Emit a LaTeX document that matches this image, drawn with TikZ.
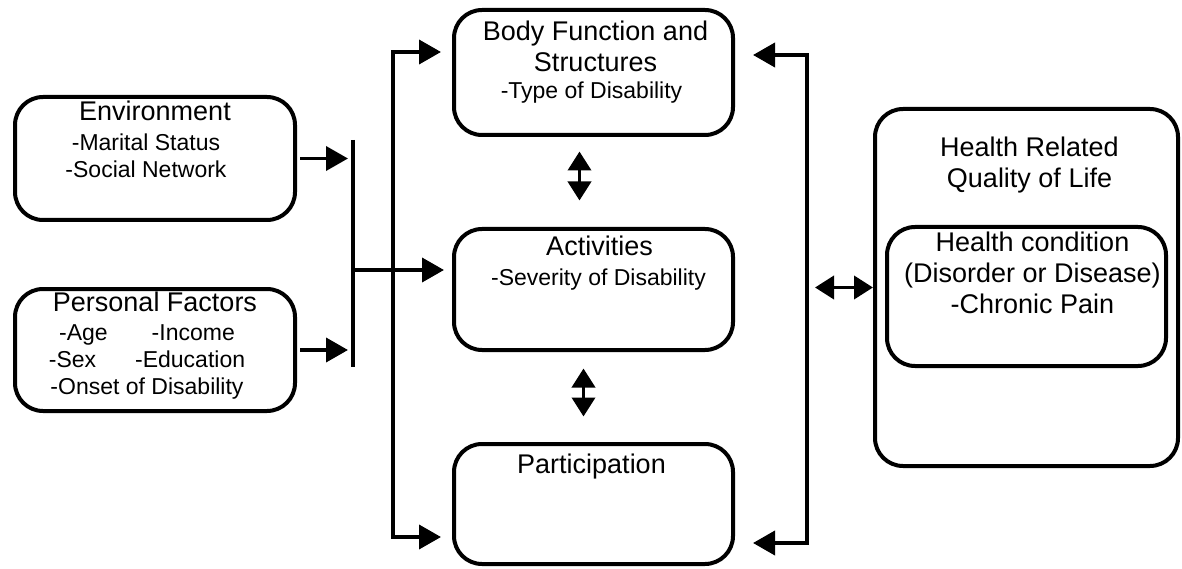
\documentclass[tikz,border=0pt]{standalone}
\usepackage{fontspec}
\setmainfont{Liberation Sans}
\usetikzlibrary{arrows.meta, positioning}
\newcommand{\boxtitle}{\fontsize{27}{31}\selectfont}
\newcommand{\boxitem}{\fontsize{23}{27}\selectfont}

\begin{document}
\begin{tikzpicture}[x=1pt, y=-1pt,
    box/.style={draw, line width=4pt, rounded corners=28pt},
    txt/.style={anchor=north, inner sep=0pt, align=center},
    conn/.style={line width=3.8pt},
    arr/.style={conn, -{Triangle[length=22pt, width=24pt]}},
    arrboth/.style={conn, {Triangle[length=22pt, width=24pt]}-{Triangle[length=22pt, width=24pt]}},
    twoway/.style={conn, {Triangle[length=19pt, width=23pt]}-{Triangle[length=19pt, width=23pt]}}]
  \useasboundingbox (0,0) rectangle (1182,569);

  % left boxes
  \node[box, minimum width=280pt, minimum height=123pt] (env) at (155,158.5) {};
  \node[box, minimum width=280pt, minimum height=122pt] (pers) at (155,350) {};
  % middle column
  \node[box, minimum width=279pt, minimum height=125pt] (body) at (593.5,72.5) {};
  \node[box, minimum width=279pt, minimum height=121pt] (act) at (593.5,289.5) {};
  \node[box, minimum width=279pt, minimum height=120pt] (part) at (593.5,504) {};
  % right side
  \node[box, minimum width=303pt, minimum height=357pt] (hrql) at (1026.5,287.5) {};
  \node[box, minimum width=279pt, minimum height=139pt] (cond) at (1026.5,296.5) {};

  % texts
  \node[txt, font=\boxtitle, yshift=-5.5pt] (envt) at (env.north) {Environment};
  \node[txt, font=\boxitem, xshift=-9pt, yshift=-38.5pt] (envi) at (env.north) {-Marital Status\\-Social Network};
  \node[txt, font=\boxtitle, yshift=-4.5pt] (perst) at (pers.north) {Personal Factors};
  \node[txt, font=\boxitem, xshift=-8pt, yshift=-37.5pt] (persi) at (pers.north)
    {-Age\hspace{44pt}-Income\\-Sex\hspace{39pt}-Education\\-Onset of Disability};
  \node[txt, font=\boxtitle, xshift=2pt, yshift=-12.5pt] (bodyt) at (body.north) {Body Function and\\Structures};
  \node[txt, font=\boxitem, xshift=-2pt, yshift=-73.5pt] (bodyi) at (body.north) {-Type of Disability};
  \node[txt, font=\boxtitle, xshift=6pt, yshift=-8.5pt] (actt) at (act.north) {Activities};
  \node[txt, font=\boxitem, xshift=5pt, yshift=-41.5pt] (acti) at (act.north) {-Severity of Disability};
  \node[txt, font=\boxtitle, xshift=-2pt, yshift=-11.5pt] (partt) at (part.north) {Participation};
  \node[txt, font=\boxtitle, xshift=3pt, yshift=-29.5pt] (hrqlt) at (hrql.north) {Health Related\\Quality of Life};
  \node[txt, font=\boxtitle, xshift=6pt, yshift=-6.5pt] (condt) at (cond.north)
    {Health condition\\(Disorder or Disease)\\-Chronic Pain};

  % joining bar
  \coordinate (bartop) at (353,140);
  \coordinate (barbot) at (353,367);
  \coordinate (barmid) at (353,270);
  \draw[conn] (bartop) -- (barbot);
  \draw[arr, shorten <=3pt, shorten >=5pt] (env.east) -- (env.east -| bartop);
  \draw[arr, shorten <=3pt, shorten >=5pt] (pers.east) -- (pers.east -| bartop);
  \draw[arr, shorten >=8pt] (barmid) -- (barmid -| act.west);

  % left trunk
  \coordinate (ltop) at (393,52);
  \coordinate (lbot) at (393,537);
  \draw[arrboth, shorten <=11pt, shorten >=11pt]
    (ltop -| body.west) -- (ltop) -- (lbot) -- (lbot -| part.west);

  % right trunk
  \coordinate (rtop) at (807,55);
  \coordinate (rbot) at (807,543);
  \coordinate (rmid) at (815,287.5);
  \draw[arrboth, shorten <=18pt, shorten >=18pt]
    (rtop -| body.east) -- (rtop) -- (rbot) -- (rbot -| part.east);
  \draw[twoway] (rmid) -- (hrql.west);

  % between middle boxes
  \draw[twoway] ([xshift=-14pt, yshift=-14.5pt]body.south) -- ([xshift=-14pt, yshift=26.5pt]act.north);
  \draw[twoway] ([xshift=-10pt, yshift=-16.5pt]act.south) -- ([xshift=-10pt, yshift=25.5pt]part.north);
\end{tikzpicture}
\end{document}
